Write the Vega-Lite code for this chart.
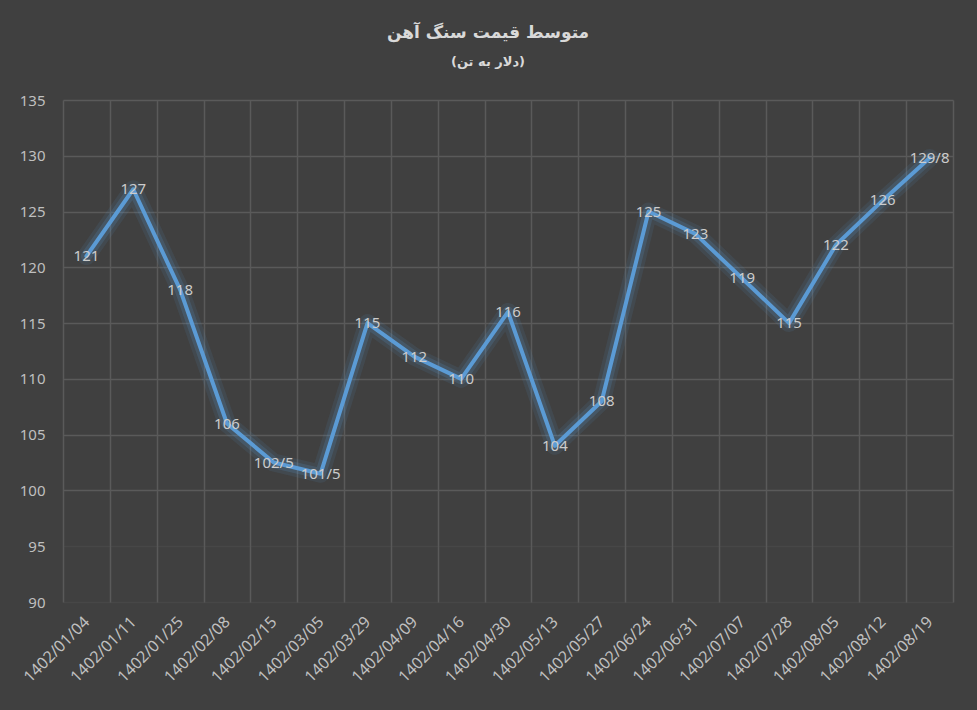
{
  "$schema": "https://vega.github.io/schema/vega-lite/v6.json",
  "autosize": {"type": "none"},
  "width": 890,
  "height": 502,
  "padding": {"left": 63, "top": 100, "right": 24, "bottom": 108},
  "background": "#404040",
  "config": {
    "view": {"stroke": null},
    "font": "Noto Sans"
  },
  "title": {
    "text": "متوسط قیمت سنگ آهن",
    "subtitle": "(دلار به تن)",
    "font": "DejaVu Sans",
    "fontSize": 17,
    "fontWeight": "bold",
    "color": "#d9d9d9",
    "subtitleFont": "DejaVu Sans",
    "subtitleFontSize": 13,
    "subtitleFontWeight": "bold",
    "subtitleColor": "#d9d9d9",
    "subtitlePadding": 14,
    "anchor": "middle",
    "dx": -20,
    "offset": 23
  },
  "data": {
    "values": [
      {"date": "1402/01/04", "price": 121, "label": "121"},
      {"date": "1402/01/11", "price": 127, "label": "127"},
      {"date": "1402/01/25", "price": 118, "label": "118"},
      {"date": "1402/02/08", "price": 106, "label": "106"},
      {"date": "1402/02/15", "price": 102.5, "label": "102/5"},
      {"date": "1402/03/05", "price": 101.5, "label": "101/5"},
      {"date": "1402/03/29", "price": 115, "label": "115"},
      {"date": "1402/04/09", "price": 112, "label": "112"},
      {"date": "1402/04/16", "price": 110, "label": "110"},
      {"date": "1402/04/30", "price": 116, "label": "116"},
      {"date": "1402/05/13", "price": 104, "label": "104"},
      {"date": "1402/05/27", "price": 108, "label": "108"},
      {"date": "1402/06/24", "price": 125, "label": "125"},
      {"date": "1402/06/31", "price": 123, "label": "123"},
      {"date": "1402/07/07", "price": 119, "label": "119"},
      {"date": "1402/07/28", "price": 115, "label": "115"},
      {"date": "1402/08/05", "price": 122, "label": "122"},
      {"date": "1402/08/12", "price": 126, "label": "126"},
      {"date": "1402/08/19", "price": 129.8, "label": "129/8"}
    ]
  },
  "encoding": {
    "x": {
      "field": "date",
      "type": "ordinal",
      "sort": null,
      "scale": {"paddingInner": 0, "paddingOuter": 0},
      "axis": {
        "title": null,
        "domain": false,
        "ticks": false,
        "tickBand": "extent",
        "grid": true,
        "gridColor": "#5a5a5a",
        "gridWidth": 1.5,
        "labelAngle": -45,
        "labelAlign": "right",
        "labelBaseline": "middle",
        "labelPadding": 17,
        "labelFontSize": 16,
        "labelColor": "#bfbfbf"
      }
    },
    "y": {
      "field": "price",
      "type": "quantitative",
      "scale": {"domain": [90, 135], "nice": false, "zero": false},
      "axis": {
        "title": null,
        "domain": false,
        "ticks": false,
        "values": [90, 95, 100, 105, 110, 115, 120, 125, 130, 135],
        "grid": true,
        "gridColor": "#5a5a5a",
        "gridWidth": 1.5,
        "gridOpacity": {"condition": {"test": "datum.value < 100", "value": 0.3}, "value": 1},
        "labelPadding": 18,
        "labelFontSize": 15,
        "labelColor": "#bfbfbf"
      }
    }
  },
  "layer": [
    {
      "mark": {"type": "line", "color": "#5b9bd5", "strokeWidth": 18, "opacity": 0.1, "strokeCap": "round", "strokeJoin": "round"}
    },
    {
      "mark": {"type": "line", "color": "#5b9bd5", "strokeWidth": 11, "opacity": 0.18, "strokeCap": "round", "strokeJoin": "round"}
    },
    {
      "mark": {"type": "line", "color": "#5b9bd5", "strokeWidth": 4, "strokeCap": "round", "strokeJoin": "round"}
    },
    {
      "mark": {"type": "text", "fontSize": 15, "color": "#cccccc", "align": "center", "baseline": "middle"},
      "encoding": {"text": {"field": "label"}}
    }
  ]
}
